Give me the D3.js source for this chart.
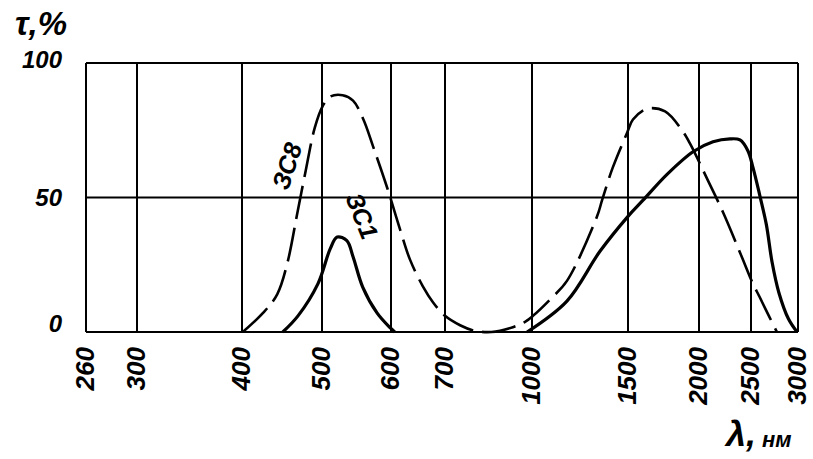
<!DOCTYPE html>
<html lang="ru">
<head>
<meta charset="UTF-8">
<title>Спектры пропускания ЗС1, ЗС8</title>
<script src="https://cdn.jsdelivr.net/npm/d3@7"></script>
<style>
body { margin: 0; background: #fff; }
text { font-family: 'Liberation Sans', Arial, sans-serif; font-weight: bold; font-style: italic; fill: #000; }
</style>
</head>
<body>
<svg id="chart" width="813" height="459"></svg>
<script>
// wavelength ticks (non-uniform scale) and transmission ticks
const xTicks = [260, 300, 400, 500, 600, 700, 1000, 1500, 2000, 2500, 3000];
const yTicks = [0, 50, 100];

// ЗС8 (dashed)
const zs8Wave = [401, 426, 444, 457, 469, 479, 491, 501, 512, 530, 545, 560, 574, 594, 617, 635, 659, 678, 700, 752, 800, 860, 934, 976, 1005, 1100, 1182, 1339, 1365, 1420, 1495, 1535, 1634, 1761, 1880, 1937, 2090, 2231, 2400, 2520, 2592, 2690, 2776];
const zs8Tau  = [0, 7, 14, 26, 44, 59, 76, 84, 87.5, 88, 86, 79, 69, 54, 38, 27, 17, 11, 6, 2.5, 0.5, 0, 1.8, 3.8, 6, 12.5, 19, 43, 49, 61, 74, 79, 83, 82, 75, 70, 56, 44.5, 29, 18, 13, 6, 0];

// ЗС1 (solid), null = gap between the two bands
const zs1Wave = [451, 470, 495, 512, 522, 536, 545, 559, 580, 599, 607, 800, 983, 1182, 1354, 1500, 1606, 1775, 1958, 2135, 2298, 2394, 2471, 2520, 2592, 2663, 2724, 2796, 2898, 2990];
const zs1Tau  = [0, 6, 18, 31, 35.3, 34, 28, 16.7, 7, 1.5, 0, null, 0, 11.5, 30, 43, 49, 58.6, 67, 70.7, 71.8, 71.4, 67.3, 61.3, 51, 40, 26, 14.7, 4.9, 0];

const svg = d3.select("#chart");

// piecewise scale: each tick sits on its own grid position
const x = d3.scaleLinear()
    .domain(xTicks)
    .range([86, 137, 242, 322, 391, 445, 532, 628, 699, 751, 798]);
const y = d3.scaleLinear().domain([0, 100]).range([332, 63]);

// grid
const grid = svg.append("g").attr("stroke", "#000").attr("stroke-width", 2);
grid.selectAll("line.v").data(xTicks).join("line")
    .attr("class", "v")
    .attr("x1", d => x(d)).attr("x2", d => x(d))
    .attr("y1", y(100)).attr("y2", y(0));
grid.selectAll("line.h").data(yTicks).join("line")
    .attr("class", "h")
    .attr("x1", x(260)).attr("x2", x(3000))
    .attr("y1", d => y(d)).attr("y2", d => y(d));

// x tick labels, rotated
svg.append("g").selectAll("text").data(xTicks).join("text")
    .attr("transform", d => `translate(${x(d) + 8},${y(0) + 15}) rotate(-90)`)
    .attr("text-anchor", "end")
    .attr("font-size", 26)
    .text(d => d);

// y tick labels
svg.append("g").selectAll("text").data(yTicks).join("text")
    .attr("x", 62)
    .attr("y", d => y(d) + (d === 100 ? 5 : d === 0 ? 0 : 8))
    .attr("text-anchor", "end")
    .attr("font-size", 24)
    .text(d => d);

// axis titles
svg.append("text").attr("x", 15).attr("y", 35).attr("font-size", 33).text("τ,%");
svg.append("text").attr("x", 726).attr("y", 446).attr("font-size", 36).text("λ,");
svg.append("text").attr("x", 762).attr("y", 447).attr("font-size", 22).text("нм");

// curves
const line = d3.line()
    .defined(d => d[1] !== null)
    .x(d => x(d[0]))
    .y(d => y(d[1]))
    .curve(d3.curveCatmullRom.alpha(0.5));

svg.append("path")
    .datum(zs8Wave.map((w, i) => [w, zs8Tau[i]]))
    .attr("fill", "none").attr("stroke", "#000").attr("stroke-width", 2.6)
    .attr("stroke-dasharray", "34,9")
    .attr("d", line);

svg.append("path")
    .datum(zs1Wave.map((w, i) => [w, zs1Tau[i]]))
    .attr("fill", "none").attr("stroke", "#000").attr("stroke-width", 3.2)
    .attr("d", line);

// curve labels
svg.append("text")
    .attr("transform", "translate(287,166) rotate(-72)")
    .attr("text-anchor", "middle").attr("dy", "0.35em")
    .attr("font-size", 25).attr("font-style", "normal")
    .text("ЗС8");
svg.append("text")
    .attr("transform", "translate(362,216) rotate(68)")
    .attr("text-anchor", "middle").attr("dy", "0.35em")
    .attr("font-size", 25).attr("font-style", "normal")
    .text("ЗС1");
</script>
</body>
</html>
